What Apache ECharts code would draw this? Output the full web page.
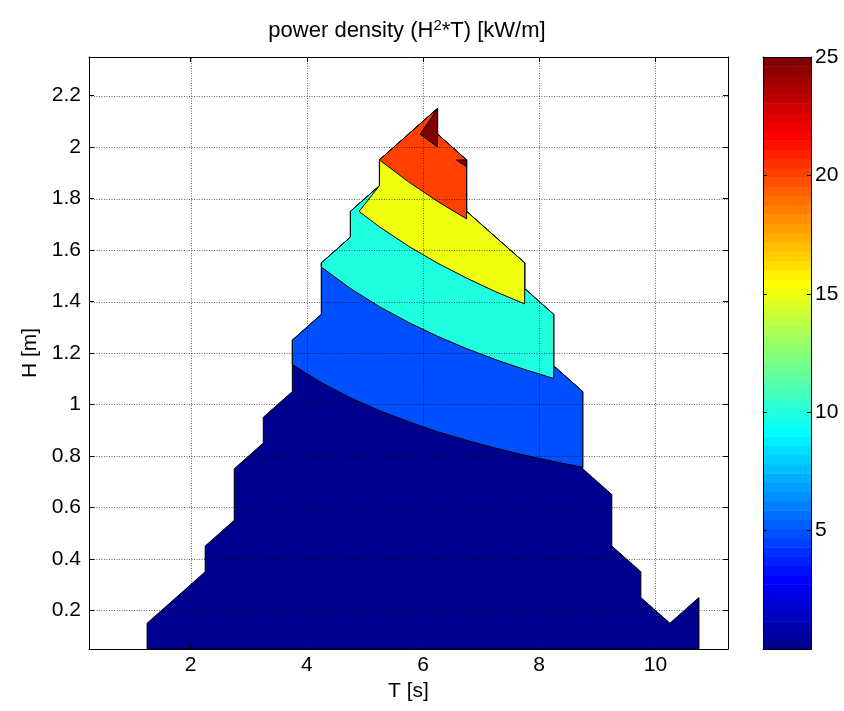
<!DOCTYPE html>
<html><head><meta charset="utf-8">
<script src="https://cdn.jsdelivr.net/npm/echarts@6/dist/echarts.min.js"></script>
<style>html,body{margin:0;padding:0;background:#fff}#c{width:844px;height:711px}</style>
</head><body><div id="c"></div><script>
// ---- axis data ----
const T_TICKS = [2, 4, 6, 8, 10];
const H_TICKS = [0.2, 0.4, 0.6, 0.8, 1, 1.2, 1.4, 1.6, 1.8, 2, 2.2];
const CB_TICKS = [5, 10, 15, 20, 25];
const T_RANGE = [0.25, 11.25];
const H_RANGE = [0.05, 2.35];
const CB_RANGE = [0, 25];
const LEVELS = [0, 5, 10, 15, 20, 25, 25];

// ---- filled contour regions (T [s], H [m]) ----
const region0 = [[1.25,0.05],[1.25,0.15],[2.25,0.35],[2.25,0.45],[2.75,0.55],[2.75,0.75],[3.25,0.85],[3.25,0.95],[3.75,1.05],[3.75,1.25],[4.25,1.35],[4.25,1.55],[4.75,1.65],[4.75,1.75],[5.25,1.85],[5.25,1.95],[5.75,2.05],[6.25,2.15],[6.25,2.05],[6.75,1.95],[6.75,1.75],[7.75,1.55],[7.75,1.45],[8.25,1.35],[8.25,1.15],[8.75,1.05],[8.75,0.75],[9.25,0.65],[9.25,0.45],[9.75,0.35],[9.75,0.25],[10.25,0.15],[10.75,0.25],[10.75,0.05]];
const region5 = [[3.75,1.155],[4.25,1.085],[4.75,1.026],[5.25,0.976],[5.75,0.933],[6.25,0.894],[6.75,0.861],[7.25,0.830],[7.75,0.803],[8.25,0.778],[8.75,0.756],[8.75,1.05],[8.25,1.15],[8.25,1.35],[7.75,1.45],[7.75,1.55],[6.75,1.75],[6.75,1.95],[6.25,2.05],[6.25,2.15],[5.75,2.05],[5.25,1.95],[5.25,1.85],[4.75,1.75],[4.75,1.65],[4.25,1.55],[4.25,1.35],[3.75,1.25]];
const region10 = [[4.25,1.534],[4.75,1.451],[5.25,1.380],[5.75,1.319],[6.25,1.265],[6.75,1.217],[7.25,1.174],[7.75,1.136],[8.25,1.101],[8.25,1.35],[7.75,1.45],[7.75,1.55],[6.75,1.75],[6.75,1.95],[6.25,2.05],[6.25,2.15],[5.75,2.05],[5.25,1.95],[5.25,1.85],[4.75,1.75],[4.75,1.65],[4.25,1.55]];
const region15 = [[4.90,1.75],[5.25,1.690],[5.75,1.615],[6.25,1.549],[6.75,1.491],[7.25,1.438],[7.75,1.391],[7.75,1.55],[6.75,1.75],[6.75,1.95],[6.25,2.05],[6.25,2.15],[5.75,2.05],[5.25,1.95],[5.25,1.85]];
const region20 = [[5.25,1.95],[5.75,1.865],[6.25,1.789],[6.75,1.721],[6.75,1.95],[6.25,2.05],[6.25,2.15],[5.75,2.05]];
const region25a = [[5.95,2.05],[6.25,2.15],[6.25,2.0]];
const region25b = [[6.575,1.95],[6.75,1.95],[6.75,1.924]];

const REGIONS = [region0, region5, region10, region15, region20, region25a, region25b];

// ---- jet colormap (64) ----
function jet(i) {
  const r = i + 1, s = 0.0625;
  let c;
  if (r <= 8) c = [0, 0, 0.5 + r * s];
  else if (r <= 24) c = [0, (r - 8) * s, 1];
  else if (r <= 40) c = [(r - 24) * s, 1, 1 - (r - 24) * s];
  else if (r <= 56) c = [1, 1 - (r - 40) * s, 0];
  else c = [1 - (r - 56) * s, 0, 0];
  return 'rgb(' + c.map(v => Math.round(v * 255)).join(',') + ')';
}
function levelColor(L) {
  const idx = Math.min(63, Math.floor((L - CB_RANGE[0]) / (CB_RANGE[1] - CB_RANGE[0]) * 64));
  return jet(idx);
}
const NCOL = 64;
const cbBands = [];
for (let i = 0; i < NCOL; i++) {
  cbBands.push([0, CB_RANGE[0] + (CB_RANGE[1] - CB_RANGE[0]) * i / NCOL, CB_RANGE[0] + (CB_RANGE[1] - CB_RANGE[0]) * (i + 1) / NCOL, i]);
}

const FONT = 'Liberation Sans, Arial, Helvetica, sans-serif';
const FS = 21;
const black = '#000';

const chart = echarts.init(document.getElementById('c'), null, {renderer: 'canvas'});

function boxAxis(extra) {
  return Object.assign({
    type: 'value', z: 10,
    axisLine: {show: true, onZero: false, lineStyle: {color: black, width: 1}},
    splitLine: {show: false},
    axisTick: {show: false},
    axisLabel: {show: false}
  }, extra);
}

const gridLineStyle = {stroke: 'rgba(0,0,0,0.6)', lineWidth: 1, lineDash: [1, 1.5]};

const option = {
  animation: false,
  backgroundColor: '#fff',
  textStyle: {fontFamily: FONT},
  grid: [
    {left: 89, top: 57, width: 639, height: 592},
    {left: 763, top: 57, width: 48, height: 592}
  ],
  xAxis: [
    boxAxis({gridIndex: 0, min: T_RANGE[0], max: T_RANGE[1], position: 'bottom',
      axisTick: {show: true, inside: true, length: 5, customValues: T_TICKS, lineStyle: {color: black}},
      axisLabel: {show: true, customValues: T_TICKS, color: black, fontSize: FS, fontFamily: FONT, margin: 6},
      name: 'T [s]', nameLocation: 'middle', nameGap: 30,
      nameTextStyle: {color: black, fontSize: FS, fontFamily: FONT}}),
    boxAxis({gridIndex: 0, min: T_RANGE[0], max: T_RANGE[1], position: 'top',
      axisTick: {show: true, inside: true, length: 5, customValues: T_TICKS, lineStyle: {color: black}}}),
    boxAxis({gridIndex: 1, min: 0, max: 1, position: 'bottom'}),
    boxAxis({gridIndex: 1, min: 0, max: 1, position: 'top'})
  ],
  yAxis: [
    boxAxis({gridIndex: 0, min: H_RANGE[0], max: H_RANGE[1], position: 'left',
      axisTick: {show: true, inside: true, length: 5, customValues: H_TICKS, lineStyle: {color: black}},
      axisLabel: {show: true, customValues: H_TICKS, color: black, fontSize: FS, fontFamily: FONT, margin: 8},
      name: 'H [m]', nameLocation: 'middle', nameGap: 48, nameRotate: 90,
      nameTextStyle: {color: black, fontSize: FS, fontFamily: FONT}}),
    boxAxis({gridIndex: 0, min: H_RANGE[0], max: H_RANGE[1], position: 'right',
      axisTick: {show: true, inside: true, length: 5, customValues: H_TICKS, lineStyle: {color: black}}}),
    boxAxis({gridIndex: 1, min: CB_RANGE[0], max: CB_RANGE[1], position: 'right',
      axisTick: {show: true, inside: true, length: 4, customValues: CB_TICKS, lineStyle: {color: black}},
      axisLabel: {show: true, customValues: CB_TICKS, color: black, fontSize: FS, fontFamily: FONT, margin: 4}}),
    boxAxis({gridIndex: 1, min: CB_RANGE[0], max: CB_RANGE[1], position: 'left',
      axisTick: {show: true, inside: true, length: 4, customValues: CB_TICKS, lineStyle: {color: black}}})
  ],
  graphic: [{
    type: 'text', x: 407, y: 31, z: 20,
    style: {
      text: '{a|power density (H}{b|2}{a|*T) [kW/m]}',
      align: 'center', verticalAlign: 'middle',
      rich: {
        a: {fontSize: 22, fontFamily: FONT, fill: black, lineHeight: 26},
        b: {fontSize: 15, fontFamily: FONT, fill: black, verticalAlign: 'top', lineHeight: 16}
      }
    }
  }],
  series: [
    {
      type: 'custom', xAxisIndex: 0, yAxisIndex: 0, z: 2, silent: true,
      data: REGIONS.map((r, i) => [r[0][0], r[0][1], LEVELS[i]]),
      encode: {x: 0, y: 1},
      renderItem: (params, api) => {
        const pts = REGIONS[params.dataIndex].map(p => api.coord(p));
        return {type: 'polygon', shape: {points: pts},
          style: {fill: levelColor(LEVELS[params.dataIndex]), stroke: black, lineWidth: 1}};
      }
    },
    {
      type: 'custom', xAxisIndex: 0, yAxisIndex: 0, z: 4, silent: true,
      data: T_TICKS.map(t => [t, H_RANGE[0]]),
      encode: {x: 0, y: 1},
      renderItem: (params, api) => {
        const x = api.value(0);
        const a = api.coord([x, H_RANGE[0]]), b = api.coord([x, H_RANGE[1]]);
        const px = Math.round(a[0]) + 0.5;
        return {type: 'line', shape: {x1: px, y1: a[1], x2: px, y2: b[1]}, style: gridLineStyle};
      }
    },
    {
      type: 'custom', xAxisIndex: 0, yAxisIndex: 0, z: 4, silent: true,
      data: H_TICKS.map(h => [T_RANGE[0], h]),
      encode: {x: 0, y: 1},
      renderItem: (params, api) => {
        const y = api.value(1);
        const a = api.coord([T_RANGE[0], y]), b = api.coord([T_RANGE[1], y]);
        const py = Math.round(a[1]) + 0.5;
        return {type: 'line', shape: {x1: a[0], y1: py, x2: b[0], y2: py}, style: gridLineStyle};
      }
    },
    {
      type: 'custom', xAxisIndex: 2, yAxisIndex: 2, z: 2, silent: true,
      data: cbBands.map(b => [b[0], b[1], b[2], b[3]]),
      encode: {x: 0, y: 1},
      renderItem: (params, api) => {
        const a = api.coord([0, api.value(1)]), b = api.coord([1, api.value(2)]);
        return {type: 'rect', shape: {x: a[0], y: b[1], width: b[0] - a[0], height: a[1] - b[1] + 0.6},
          style: {fill: jet(api.value(3))}};
      }
    }
  ]
};
chart.setOption(option);
</script></body></html>
